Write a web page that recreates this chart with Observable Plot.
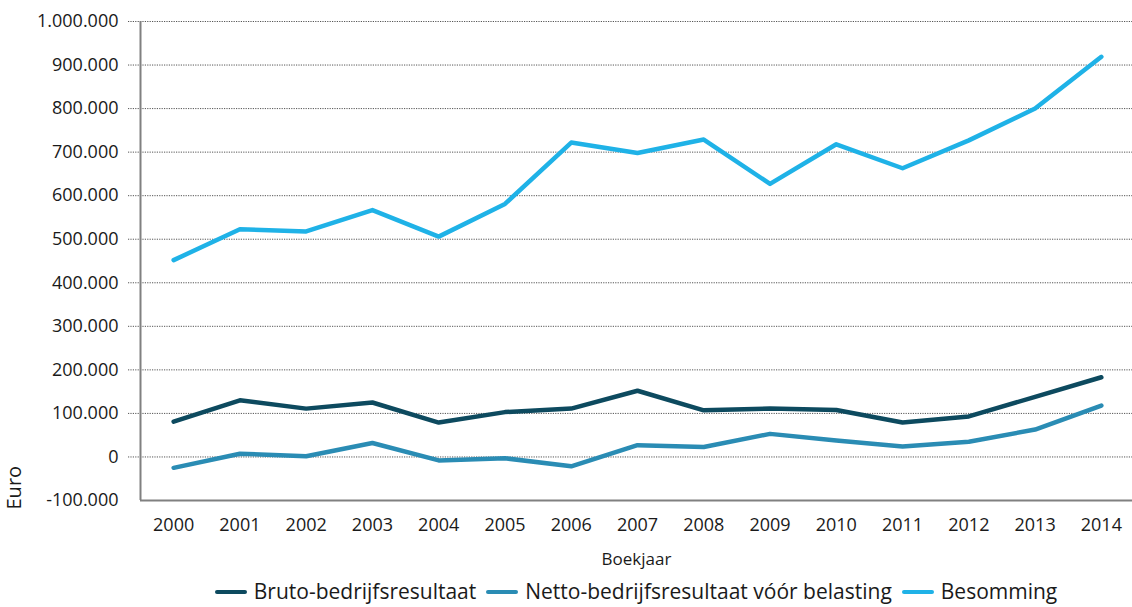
<!DOCTYPE html>
<html><head><meta charset="utf-8">
<script src="https://cdn.jsdelivr.net/npm/d3@7"></script>
<script src="https://cdn.jsdelivr.net/npm/@observablehq/plot@0.6"></script>
<style>
body{margin:0;background:#fff;font-family:"Open Sans",sans-serif;color:#1a1a1a;overflow:hidden;}
#legend{display:flex;justify-content:center;align-items:center;height:27px;line-height:27px;font-size:21px;padding-left:140px;white-space:nowrap;}
.item{display:flex;align-items:center;margin:0 5px;}
.sw{width:32px;height:4px;border-radius:2px;margin-right:7px;}
</style></head><body>
<div id="chart"></div>
<div id="legend"></div>
<script>
const years = [2000,2001,2002,2003,2004,2005,2006,2007,2008,2009,2010,2011,2012,2013,2014];
const bruto = [81000,130000,111000,125000,79000,103000,111000,152000,107000,111000,108000,79000,93000,138000,183000];
const netto = [-25000,7500,1500,32000,-8000,-3000,-21500,27000,23000,53000,38000,24000,35000,63000,118000];
const besomming = [452000,523000,518000,567000,506000,581000,722000,698000,729000,627000,718000,663000,727000,800000,919000];
const seriesNames = ["Bruto-bedrijfsresultaat","Netto-bedrijfsresultaat vóór belasting","Besomming"];
const seriesColors = ["#0d4a5f","#2a8cb4","#1fb2e7"];
const yTicks = [-100000,0,100000,200000,300000,400000,500000,600000,700000,800000,900000,1000000];

const seriesValues = [bruto, netto, besomming];
const data = [];
seriesNames.forEach((s, i) => years.forEach((y, j) => data.push({series: s, year: y, value: seriesValues[i][j]})));

const fmt = d3.formatLocale({decimal:",", thousands:".", grouping:[3], currency:["€",""], minus:"-"}).format(",d");

const plot = Plot.plot({
  width: 1132, height: 578,
  marginLeft: 140, marginTop: 21, marginBottom: 78, marginRight: 0,
  style: {fontFamily: "'Open Sans', sans-serif", fontSize: "18px", color: "#1a1a1a", background: "#fff", overflow: "visible"},
  x: {type: "linear", domain: [years[0] - 0.5, years[years.length - 1] + 0.5], range: [140, 1134], axis: null},
  y: {domain: [-100000, 1000000], axis: null},
  color: {domain: seriesNames, range: seriesColors},
  marks: [
    Plot.ruleY(yTicks.slice(1), {stroke: "#555", strokeWidth: 1, strokeDasharray: "1.2,1.2", insetLeft: -12}),
    Plot.ruleY([yTicks[0]], {stroke: "#808080", strokeWidth: 2}),
    Plot.ruleX([years[0] - 0.5], {stroke: "#808080", strokeWidth: 2}),
    Plot.line(data, {x: "year", y: "value", z: "series", stroke: "series", strokeWidth: 4.5, strokeLinecap: "round", strokeLinejoin: "round"}),
    Plot.axisY(yTicks, {tickSize: 0, tickPadding: 22, tickFormat: fmt, label: null, fontSize: 18, fill: "#1a1a1a"}),
    Plot.axisX(years, {tickSize: 0, tickPadding: 18, tickFormat: d => String(d), label: null, fontSize: 18, fill: "#1a1a1a"}),
    Plot.text(["Boekjaar"], {frameAnchor: "bottom", dy: 64, fontSize: 17, fill: "#1a1a1a"}),
    Plot.text(["Euro"], {frameAnchor: "bottom-left", dx: -120, dy: 9, rotate: -90, textAnchor: "start", fontSize: 20, fill: "#1a1a1a"})
  ]
});
document.getElementById("chart").appendChild(plot);

const legend = document.getElementById("legend");
seriesNames.forEach((s, i) => {
  const it = document.createElement("div");
  it.className = "item";
  const sw = document.createElement("span");
  sw.className = "sw";
  sw.style.background = seriesColors[i];
  const t = document.createElement("span");
  t.textContent = s;
  it.appendChild(sw); it.appendChild(t);
  legend.appendChild(it);
});
</script>
</body></html>
